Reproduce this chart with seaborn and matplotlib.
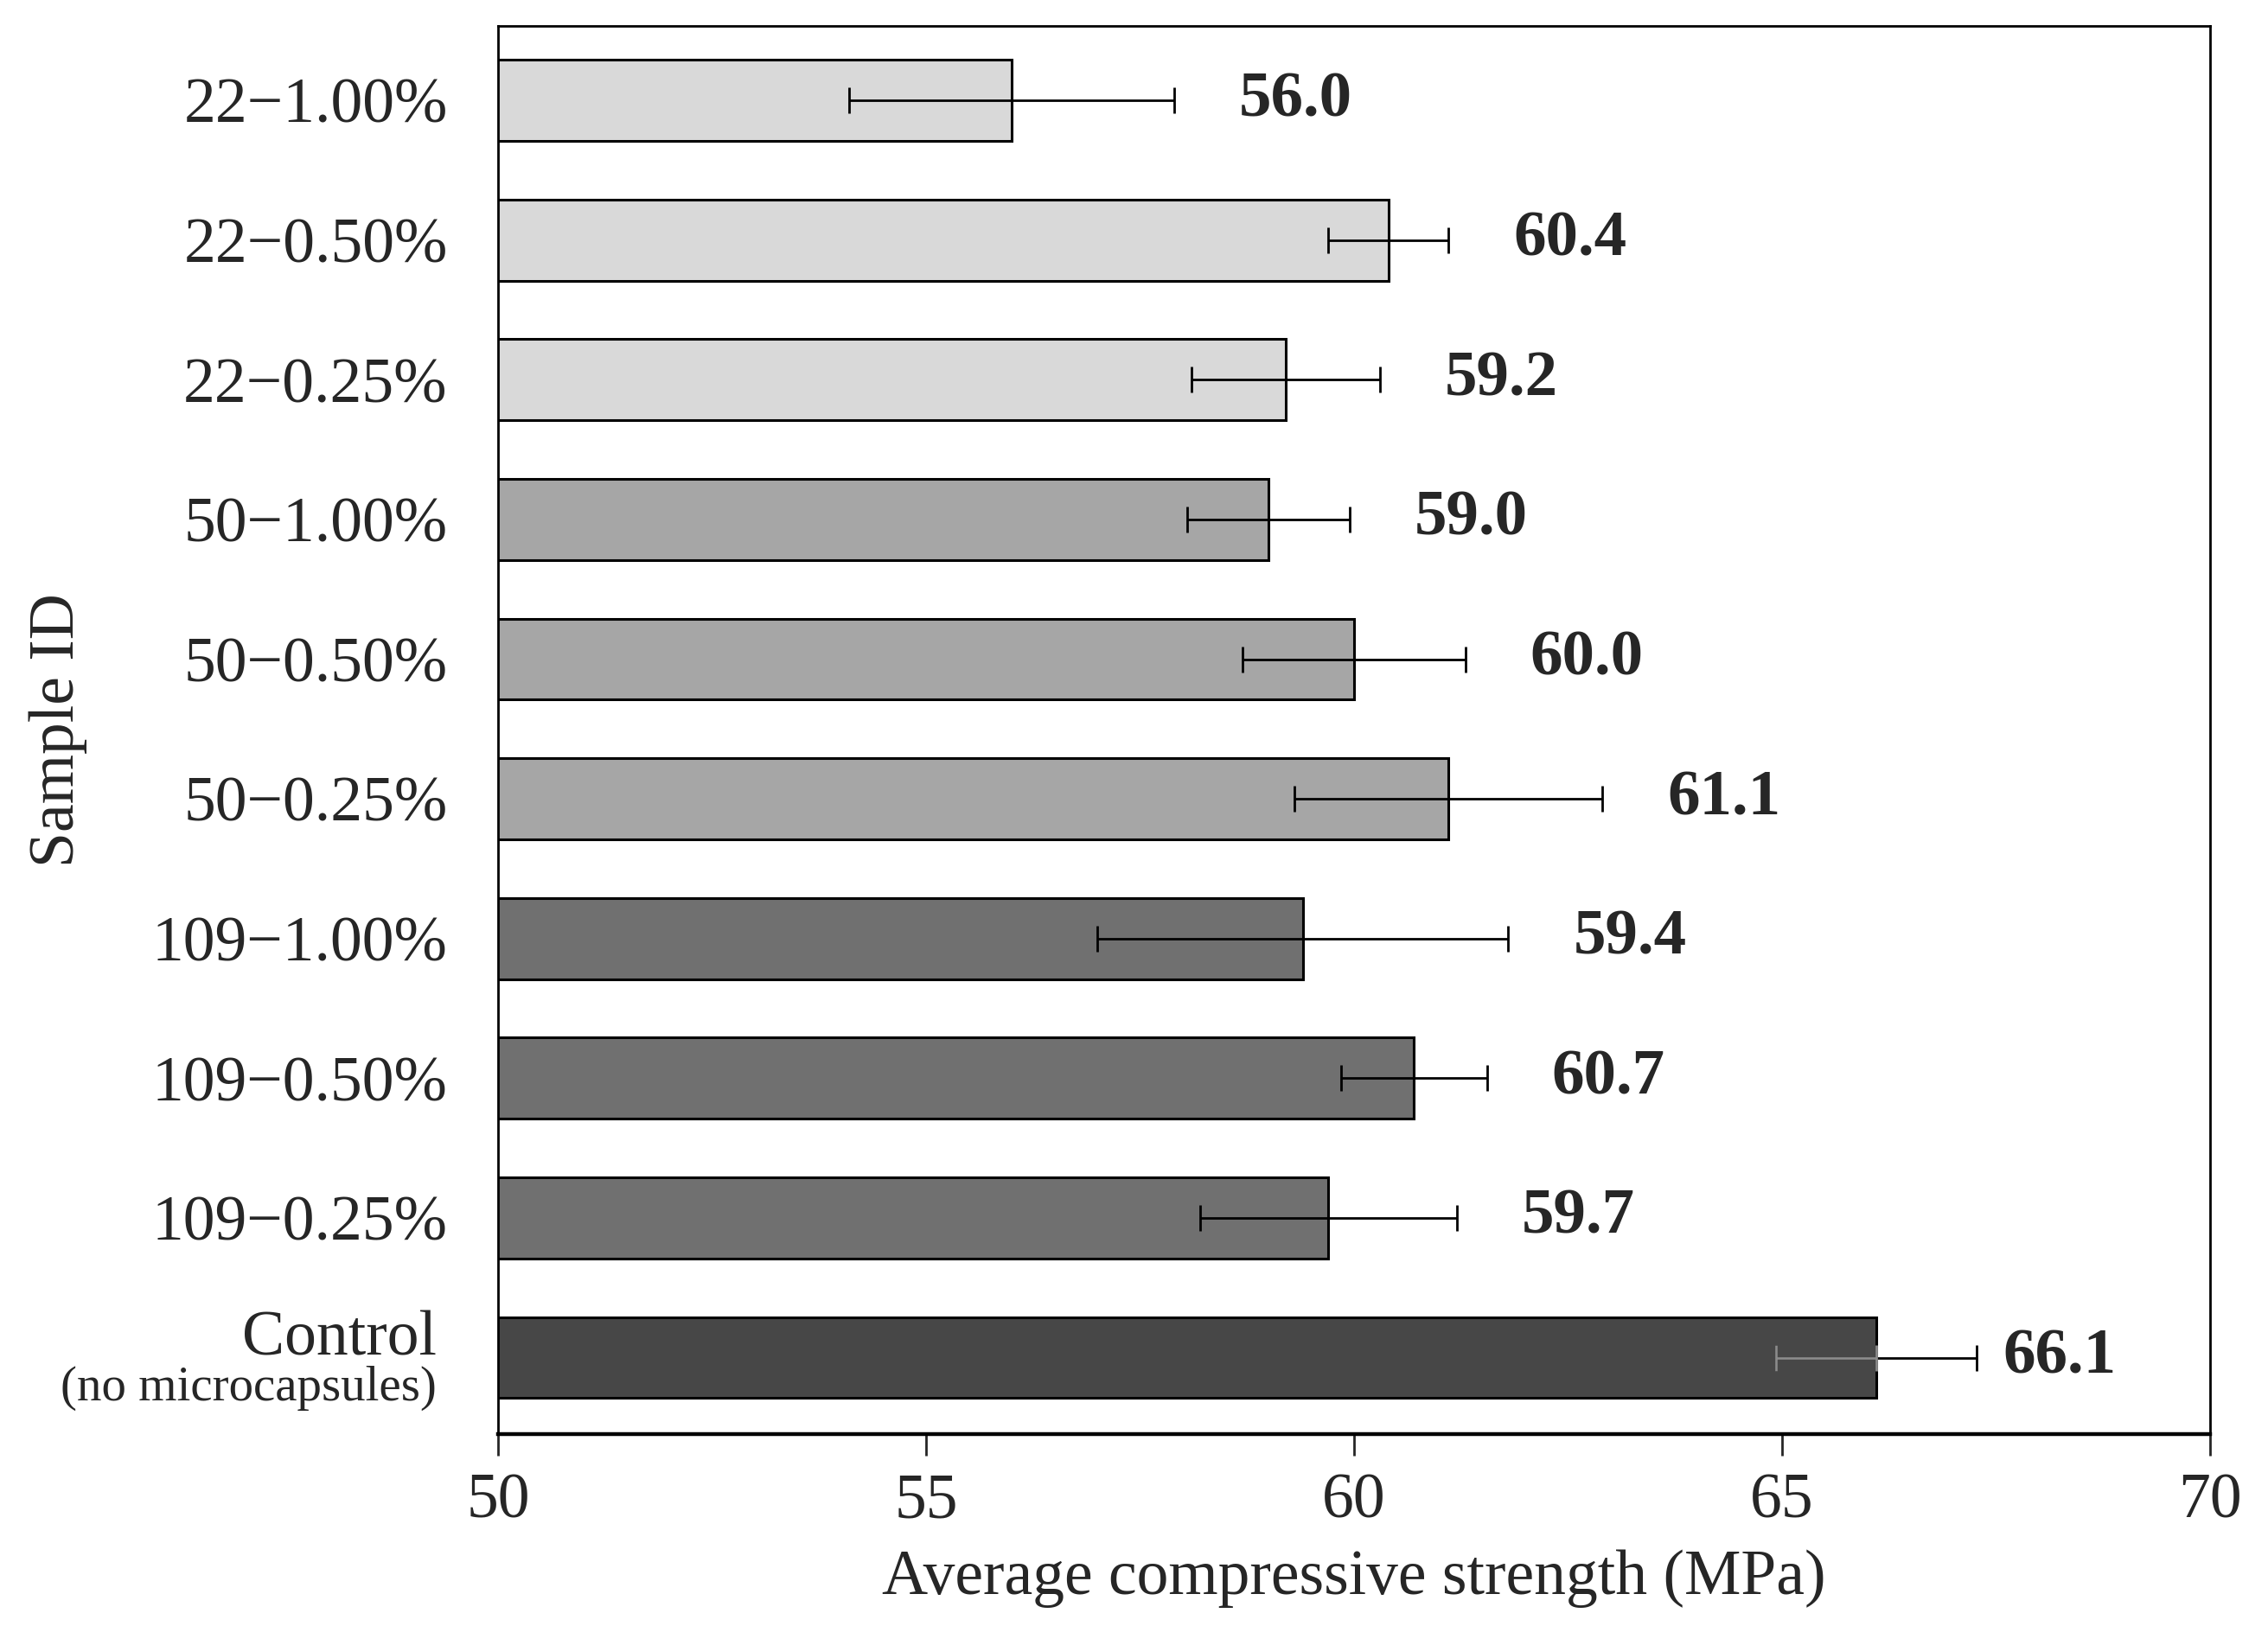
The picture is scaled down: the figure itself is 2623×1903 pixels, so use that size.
import seaborn as sns
import matplotlib.pyplot as plt
import pandas as pd

# data
samples = ["22\u22121.00%", "22\u22120.50%", "22\u22120.25%",
           "50\u22121.00%", "50\u22120.50%", "50\u22120.25%",
           "109\u22121.00%", "109\u22120.50%", "109\u22120.25%",
           "Control"]
strength = [56.0, 60.4, 59.2, 59.0, 60.0, 61.1, 59.4, 60.7, 59.7, 66.1]
std_dev = [1.9, 0.7, 1.1, 0.95, 1.3, 1.8, 2.4, 0.85, 1.5, 1.17]
bar_colors = ["#d9d9d9"] * 3 + ["#a6a6a6"] * 3 + ["#707070"] * 3 + ["#474747"]

df = pd.DataFrame({"sample": samples, "strength": strength, "sd": std_dev})

sns.set_style("white")
plt.rcParams["font.family"] = ["Liberation Serif", "DejaVu Serif"]

fig = plt.figure(figsize=(26.23, 19.03), dpi=100)
ax = fig.add_axes([0.2196, 0.128, 0.9745 - 0.2196, 0.984 - 0.128])

sns.barplot(data=df, x="strength", y="sample", hue="sample", palette=bar_colors,
            legend=False, orient="h", width=0.58, edgecolor="black",
            linewidth=2.2, ax=ax, zorder=2)

ypos = list(range(len(samples)))
ax.errorbar(strength, ypos, xerr=std_dev, fmt="none", ecolor="black",
            elinewidth=2, capsize=11, capthick=2, zorder=3)
# lower half of the control error bar is drawn in grey in the original
last = len(samples) - 1
ax.errorbar([strength[last]], [ypos[last]], xerr=[[std_dev[last]], [0]],
            fmt="none", ecolor="#8c8c8c", elinewidth=2, capsize=11,
            capthick=2, zorder=4)

for i, (v, e) in enumerate(zip(strength, std_dev)):
    off = 22 if i == last else 54
    ax.annotate(f"{v:.1f}", xy=(v + e, i), xytext=(off, 0),
                textcoords="offset points", ha="left", va="center",
                fontsize=54, fontweight="bold")

ax.set_xlim(50, 70)
ax.set_ylim(len(samples) - 0.45, -0.53)
ax.set_xticks([50, 55, 60, 65, 70])
ax.tick_params(axis="x", labelsize=53, length=18, width=2, pad=14,
               direction="out", bottom=True)
ax.tick_params(axis="y", labelsize=53, length=0, pad=42)

# control label on two lines with a smaller second line
labels = [s for s in samples]
labels[last] = ""
ax.set_yticks(ypos)
ax.set_yticklabels(labels)
trans = ax.get_yaxis_transform()
ax.text(-0.036, last - 0.13, "Control", transform=trans, ha="right",
        va="center", fontsize=53)
ax.text(-0.036, last + 0.22, "(no microcapsules)", transform=trans,
        ha="right", va="center", fontsize=41)

ax.set_xlabel("Average compressive strength (MPa)", fontsize=53, labelpad=15)
ax.set_ylabel("Sample ID", fontsize=53, labelpad=54)

for side in ["left", "right", "top"]:
    ax.spines[side].set_linewidth(2)
    ax.spines[side].set_color("black")
ax.spines["bottom"].set_linewidth(3.2)
ax.spines["bottom"].set_color("black")

fig.savefig("out.png", dpi=100)
